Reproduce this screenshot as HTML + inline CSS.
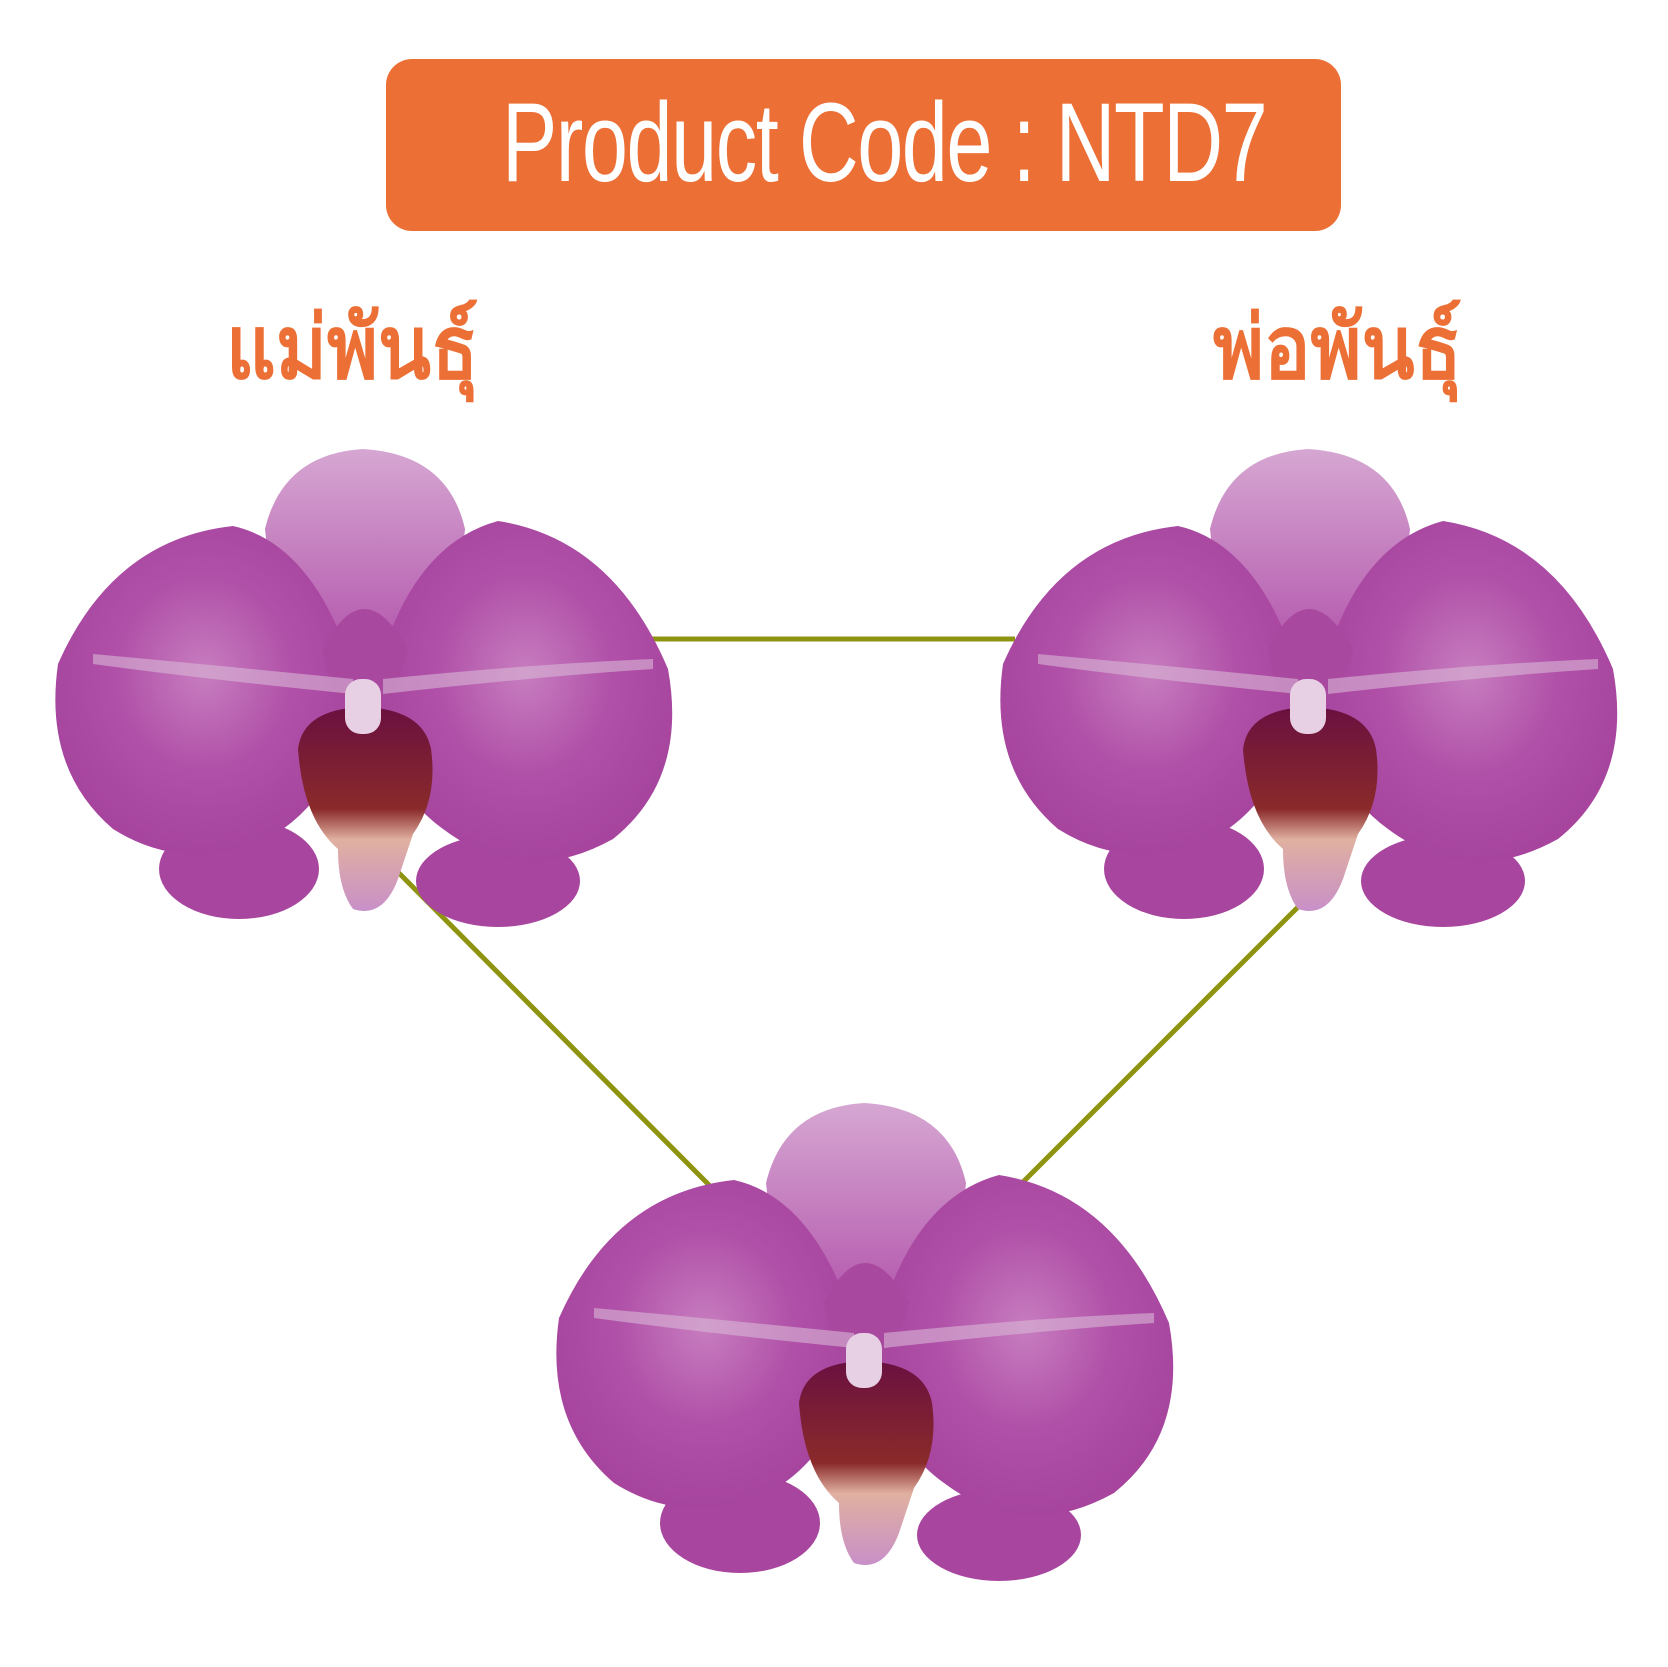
<!DOCTYPE html>
<html><head><meta charset="utf-8"><style>
html,body{margin:0;padding:0;background:#fff;}
body{width:1668px;height:1667px;position:relative;overflow:hidden;}
.box{position:absolute;left:386px;top:59px;width:955px;height:172px;background:#ec6f35;border-radius:26px;}
.t{position:absolute;left:502px;top:78px;font-family:"Liberation Sans",sans-serif;font-size:112px;color:#fff;white-space:nowrap;transform-origin:0 0;transform:scaleX(0.74);letter-spacing:-2px;line-height:130px;}
.th{position:absolute;font-family:"Liberation Sans","Noto Sans CJK SC",sans-serif;font-size:88px;color:#ec6f35;line-height:100px;white-space:nowrap;transform-origin:0 0;transform:scaleX(0.88);font-weight:bold;}
svg{position:absolute;left:0;top:0;}
</style></head><body>
<div class="box"></div>
<div class="t">Product Code : NTD7</div>
<div class="th" style="left:226px;top:298px;">แม่พันธุ์</div>
<div class="th" style="left:1213px;top:298px;">พ่อพันธุ์</div>
<svg width="1668" height="1667" viewBox="0 0 1668 1667">
<defs>
<radialGradient id="pg" cx="0.5" cy="0.45" r="0.6">
<stop offset="0" stop-color="#c77dbf"/><stop offset="0.5" stop-color="#b050a8"/><stop offset="1" stop-color="#a4429c"/>
</radialGradient>
<linearGradient id="ds" x1="0" y1="0" x2="0" y2="1">
<stop offset="0" stop-color="#d6a7d2"/><stop offset="1" stop-color="#b458ad"/>
</linearGradient>
<linearGradient id="lip" x1="0" y1="0" x2="0" y2="1">
<stop offset="0" stop-color="#6a1040"/><stop offset="0.5" stop-color="#8a2a2a"/><stop offset="0.65" stop-color="#e0b0a0"/><stop offset="1" stop-color="#c890c8"/>
</linearGradient>
<g id="orc">
<ellipse cx="186" cy="420" rx="80" ry="50" fill="#a8459e"/>
<ellipse cx="445" cy="432" rx="82" ry="46" fill="#a8459e"/>
<path d="M212 80 Q230 5 310 0 Q395 5 412 80 L400 200 L225 200 Z" fill="url(#ds)"/>
<path d="M300 220 Q260 95 180 77 Q60 90 5 215 Q-10 320 60 380 Q140 430 230 380 Q300 330 300 220 Z" fill="url(#pg)"/>
<path d="M325 220 Q360 95 445 72 Q560 90 615 220 Q635 330 560 390 Q470 440 390 380 Q320 330 325 220 Z" fill="url(#pg)"/>
<path d="M270 200 Q310 120 355 200 Q340 260 310 270 Q280 260 270 200 Z" fill="#a9489f"/>
<path d="M40 205 Q150 215 300 230 L300 245 Q150 230 40 215 Z" fill="#d9b7d6" opacity="0.6"/>
<path d="M330 230 Q480 215 600 210 L600 220 Q480 228 330 245 Z" fill="#d9b7d6" opacity="0.6"/>
<path d="M245 300 Q250 260 310 258 Q370 260 378 300 Q385 350 360 385 L345 430 Q330 470 300 460 Q285 440 285 400 Q250 370 245 300 Z" fill="url(#lip)"/>
<rect x="292" y="230" width="36" height="55" rx="16" fill="#e8d0e4"/>
</g>
</defs>
<g stroke="#8f9410" stroke-width="5" fill="none">
<line x1="640" y1="639" x2="1015" y2="639"/>
<line x1="388" y1="862" x2="712" y2="1188"/>
<line x1="1343" y1="862" x2="1015" y2="1190"/>
</g>
<use href="#orc" x="53" y="449"/>
<use href="#orc" x="998" y="449"/>
<use href="#orc" x="554" y="1103"/>
</svg>
</body></html>
